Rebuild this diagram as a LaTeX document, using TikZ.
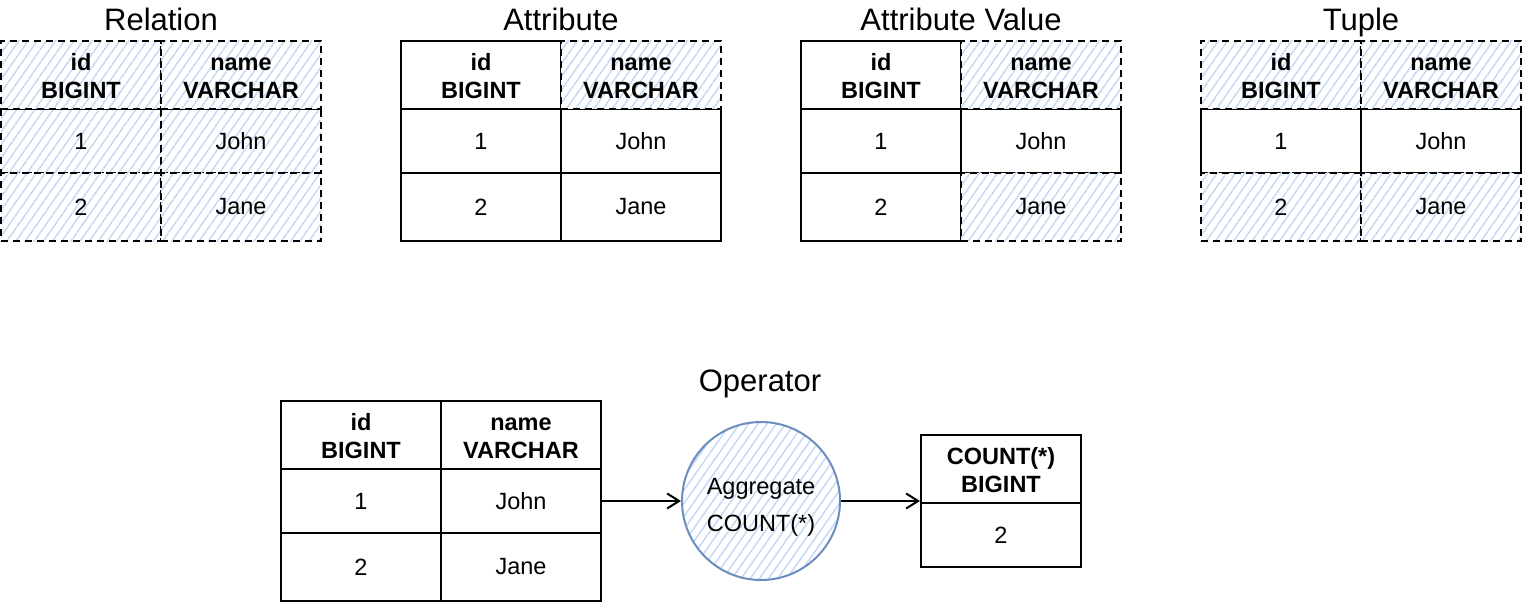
\documentclass[tikz,border=0pt]{standalone}
\usepackage{fontspec}
\setmainfont{Liberation Sans}
\usetikzlibrary{arrows.meta,patterns.meta,positioning}

\definecolor{hatchblue}{HTML}{C4D9F7}
\definecolor{opblue}{HTML}{6C8EBF}

\tikzset{
  cell/.style={draw=black, line width=2pt, inner sep=0pt, minimum width=160pt,
    align=center, font=\fontsize{23.5}{27.5}\selectfont},
  plain/.style={cell},
  hatch/.style={pattern={Lines[angle=55,distance=7.5pt,line width=1.5pt]}, pattern color=hatchblue},
  hl/.style={cell, dash pattern=on 7pt off 5pt, preaction={fill=white}, hatch},
  headrow/.style={minimum height=68pt, font=\fontsize{23.5}{27.5}\selectfont\bfseries},
  bodyrow/.style={minimum height=#1},
  title/.style={anchor=base, font=\fontsize{31}{36}\selectfont},
  flow/.style={line width=2pt, -{Straight Barb[length=12pt,width=15pt,line width=2pt]}},
}

\begin{document}
\begin{tikzpicture}[x=1pt,y=-1pt]
  \useasboundingbox (0,0) rectangle (1522,604);
  % Top tables (row 1 first, so dashed cells lie on top)
  \foreach \t/\x/\ttl/\sa/\sb/\sc/\sd/\se/\sf in {
      rel/1/Relation/hl/hl/hl/hl/hl/hl,
      att/401/Attribute/plain/plain/plain/hl/plain/plain,
      val/801/Attribute Value/plain/plain/plain/hl/plain/hl,
      tup/1201/Tuple/plain/plain/hl/hl/hl/hl} {
    \node[title] (\t-title) at (\x+160,31) {\ttl};
    \node[\sa, bodyrow=64pt] (\t-a1) at (\x+80,141) {1};
    \node[\sb, bodyrow=64pt] (\t-a2) at (\x+240,141) {John};
    \node[\sc, headrow] (\t-h1) at (\x+80,75) {\strut id\\BIGINT};
    \node[\sd, headrow] (\t-h2) at (\x+240,75) {\strut name\\VARCHAR};
    \node[\se, bodyrow=68pt] (\t-b1) at (\x+80,207) {2};
    \node[\sf, bodyrow=68pt] (\t-b2) at (\x+240,207) {Jane};
  }
  % Operator input
  \node[title] (op-title) at (760,391) {Operator};
  \node[plain, headrow] (op-h1) at (361,435) {\strut id\\BIGINT};
  \node[plain, headrow] (op-h2) at (521,435) {\strut name\\VARCHAR};
  \node[plain, bodyrow=64pt] (op-a1) at (361,501) {1};
  \node[plain, bodyrow=64pt] (op-a2) at (521,501) {John};
  \node[plain, bodyrow=68pt] (op-b1) at (361,567) {2};
  \node[plain, bodyrow=68pt] (op-b2) at (521,567) {Jane};
  % Aggregate
  \node[circle, draw=opblue, line width=2pt, minimum size=158pt, inner sep=0pt, hatch,
    align=center, font=\fontsize{23.5}{37}\selectfont] (agg) at (761,501)
    {\rule{0pt}{29pt}Aggregate\\COUNT(*)};
  % Result
  \node[plain, headrow] (res-h) at (1001,469) {\strut COUNT(*)\\BIGINT};
  \node[plain, bodyrow=64pt] (res-a) at (1001,535) {2};
  % Flow
  \draw[flow] (op-a2.east) -- (agg.west);
  \draw[flow] (agg.east) -- (agg.east -| res-h.west);
\end{tikzpicture}
\end{document}
